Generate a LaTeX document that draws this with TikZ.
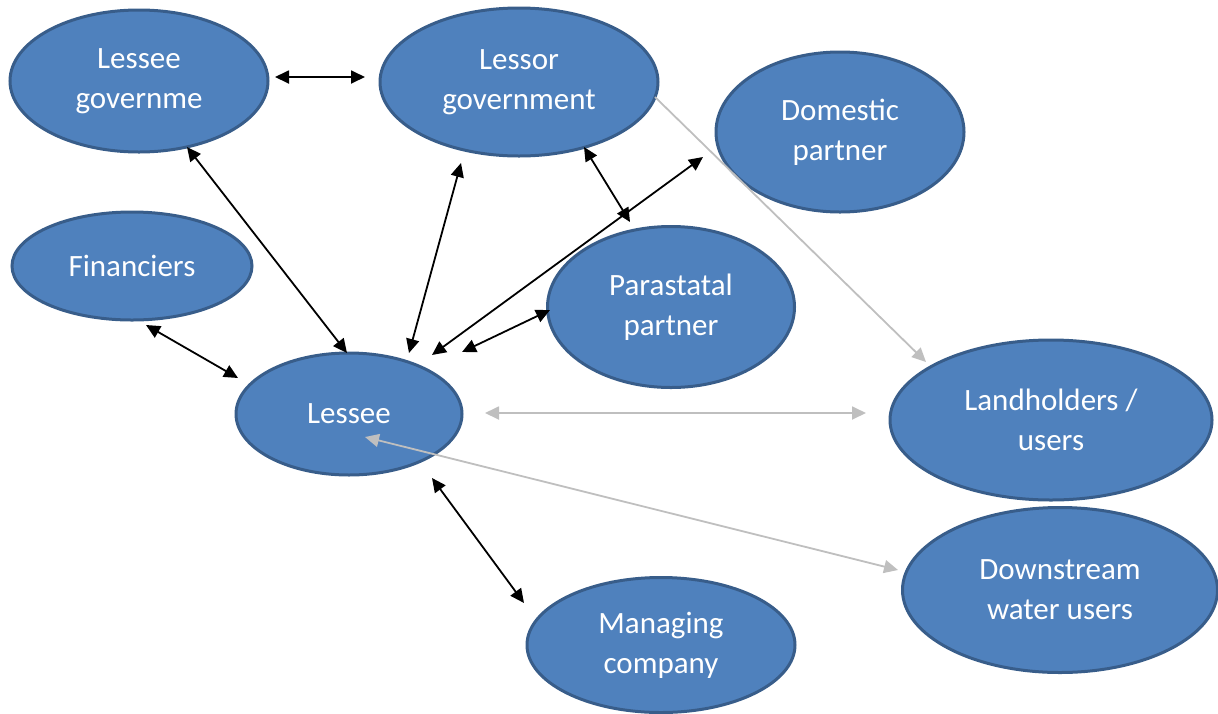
\documentclass[tikz,border=0pt]{standalone}
\usepackage{fontspec}
\setmainfont{Carlito}
\usetikzlibrary{shapes.geometric,arrows.meta}
\definecolor{blobfill}{HTML}{4F81BD}
\definecolor{blobline}{HTML}{385D8A}
\definecolor{lightarrow}{HTML}{BFBFBF}
\begin{document}
\begin{tikzpicture}[x=1pt,y=-1pt,
  blob/.style={ellipse,fill=blobfill,draw=blobline,line width=3pt,inner sep=0pt,
    text=white,align=center,font=\fontsize{31}{40}\selectfont},
  link/.style={line width=1.8pt,{Triangle[length=14pt,width=13pt]}-{Triangle[length=14pt,width=13pt]}},
  glink/.style={draw=lightarrow,line width=1.8pt,{Triangle[length=14pt,width=13pt]}-{Triangle[length=14pt,width=13pt]}},
  gone/.style={draw=lightarrow,line width=1.8pt,-{Triangle[length=14pt,width=13pt]}}]
\useasboundingbox (0,0) rectangle (1218,713);
\node[blob,minimum width=258,minimum height=142] (lg) at (139,81) {Lessee\\governme};
\node[blob,minimum width=278,minimum height=148] (lo) at (519,82) {Lessor\\government};
\node[blob,minimum width=248,minimum height=160] (dp) at (840,132) {Domestic\\partner};
\node[blob,minimum width=240,minimum height=108] (fi) at (132,266) {Financiers};
\node[blob,minimum width=247,minimum height=161] (pp) at (671,307) {Parastatal\\partner};
\node[blob,minimum width=226,minimum height=122] (le) at (349,414) {Lessee};
\node[blob,minimum width=322,minimum height=160] (lh) at (1051,420) {Landholders /\\users};
\node[blob,minimum width=315,minimum height=165] (dw) at (1060,590) {Downstream\\water users};
\node[blob,minimum width=268,minimum height=135] (mc) at (661,645) {Managing\\company};
% arrow end points
\coordinate (a1) at (275,77); \coordinate (a2) at (365,77);
\coordinate (b1) at (187,147); \coordinate (b2) at (347,353);
\coordinate (c1) at (461,163); \coordinate (c2) at (409,353);
\coordinate (d1) at (584,147); \coordinate (d2) at (630,222);
\coordinate (e1) at (703,157); \coordinate (e2) at (432,355);
\coordinate (f1) at (550,310); \coordinate (f2) at (462,352);
\coordinate (g1) at (146,325); \coordinate (g2) at (238,378);
\coordinate (h1) at (432,478); \coordinate (h2) at (524,603);
\coordinate (i1) at (655,97); \coordinate (i2) at (926,362);
\coordinate (j1) at (485,413); \coordinate (j2) at (866,413);
\coordinate (k1) at (365,437); \coordinate (k2) at (898,570);
\draw[link] (a1) -- (a2);
\draw[link] (b1) -- (b2);
\draw[link] (c1) -- (c2);
\draw[link] (d1) -- (d2);
\draw[link] (e1) -- (e2);
\draw[link] (f1) -- (f2);
\draw[link] (g1) -- (g2);
\draw[link] (h1) -- (h2);
\draw[gone] (i1) -- (i2);
\draw[glink] (j1) -- (j2);
\draw[glink] (k1) -- (k2);
\end{tikzpicture}
\end{document}
